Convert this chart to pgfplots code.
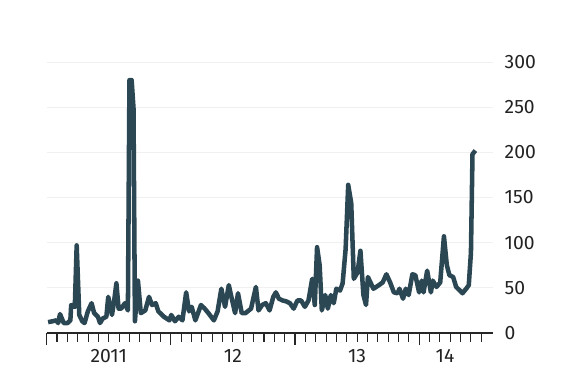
\documentclass[border=0pt]{standalone}
\usepackage{fontspec}
\setmainfont{Fira Sans}
\usepackage{pgfplots}
\pgfplotsset{compat=1.18}
\definecolor{lineC}{HTML}{2B4753}
\definecolor{txt}{HTML}{222222}
\begin{document}
\begin{tikzpicture}
\path[use as bounding box] (-35pt,-37.5pt) rectangle (403pt,249.75pt);
\begin{axis}[
  at={(0,0)}, anchor=south west, scale only axis,
  width=334.5pt, height=203.25pt,
  xmin=0, xmax=43.1, ymin=0, ymax=300,
  axis x line*=bottom, axis y line*=right,
  y axis line style={draw=none},
  x axis line style={color=black!85, line width=0.8pt},
  tick align=outside,
  xtick={0,12,24,36}, xticklabels={},
  minor xtick={1,2,...,42},
  major tick length=9pt, minor tick length=6.5pt,
  x tick style={color=black!85, line width=0.8pt},
  extra x ticks={6,18,30,38.5},
  extra x tick labels={2011,12,13,14},
  extra x tick style={major tick length=0pt},
  xticklabel style={font=\fontsize{14.5}{16}\selectfont, text=txt, yshift=-9pt},
  ytick={0,50,...,300},
  y tick style={draw=none},
  yticklabel style={font=\fontsize{14.5}{16}\selectfont, text=txt, anchor=west, xshift=-3.5pt},
  /pgf/number format/assume math mode=true,
  ymajorgrids, grid style={black!6, line width=0.6pt},
  clip=false,
]
\addplot[lineC, line width=3.4pt, line join=round] coordinates {
(0.14,12) (0.57,13) (0.93,14) (1.11,11) (1.29,21) (1.65,11) (2.01,11) (2.29,14)
(2.37,31) (2.72,29) (2.90,97) (3.15,20) (3.44,13) (3.66,11) (3.98,24) (4.34,33)
(4.59,22) (4.95,18) (5.16,11) (5.41,16) (5.77,18) (5.95,40) (6.31,20) (6.49,33)
(6.74,55) (6.95,27) (7.20,27) (7.56,33) (7.85,25) (8.00,280) (8.21,280) (8.39,249)
(8.53,13) (8.82,58) (9.10,22) (9.53,25) (9.89,40) (10.18,31) (10.54,33) (10.79,24)
(11.33,18) (11.86,14) (12.04,20) (12.40,13) (12.76,18) (13.12,14) (13.48,45) (13.76,24)
(14.01,29) (14.37,14) (14.91,31) (15.27,27) (15.63,22) (16.16,14) (16.52,24) (16.88,49)
(17.24,29) (17.60,53) (17.85,40) (18.21,22) (18.49,44) (18.85,22) (19.21,22) (19.75,27)
(20.22,51) (20.47,25) (20.82,31) (21.18,33) (21.54,25) (21.90,40) (22.15,45) (22.44,38)
(22.80,36) (23.15,35) (23.51,33) (23.87,27) (24.23,36) (24.59,36) (24.95,29) (25.30,36)
(25.66,60) (25.91,31) (26.13,95) (26.38,75) (26.59,25) (26.92,42) (27.17,27) (27.46,42)
(27.74,33) (27.99,49) (28.35,47) (28.60,55) (28.89,93) (29.14,164) (29.43,144) (29.68,60)
(30.04,67) (30.32,91) (30.61,42) (30.86,31) (31.04,62) (31.29,56) (31.58,49) (32.11,53)
(32.47,56) (32.83,65) (33.19,56) (33.55,45) (33.91,44) (34.09,49) (34.44,38) (34.70,49)
(34.98,42) (35.34,65) (35.63,64) (35.99,45) (36.24,58) (36.42,45) (36.77,69) (37.13,45)
(37.31,58) (37.67,51) (38.03,56) (38.39,107) (38.67,75) (38.92,64) (39.28,62) (39.57,51)
(39.93,47) (40.18,44) (40.54,49) (40.79,53) (41.00,89) (41.15,198) (41.43,202)
};
\end{axis}
\end{tikzpicture}
\end{document}
